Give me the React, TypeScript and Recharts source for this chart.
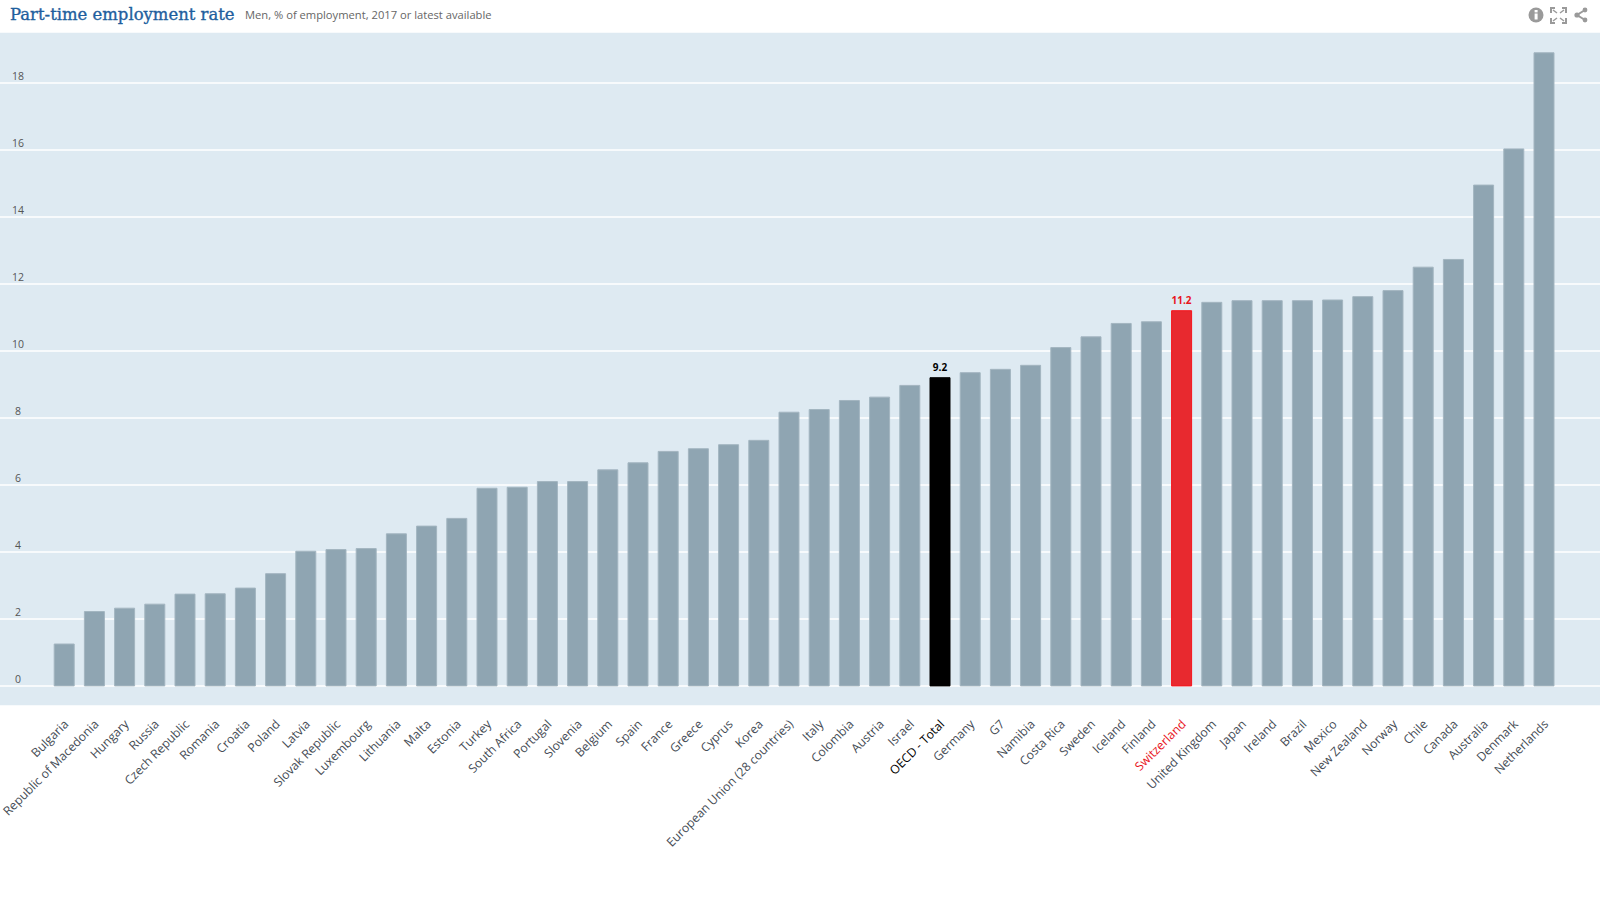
import { BarChart, Bar, Cell, CartesianGrid, LabelList, XAxis, YAxis } from "recharts";

const categories = [
  "Bulgaria", "Republic of Macedonia", "Hungary", "Russia", "Czech Republic", "Romania", "Croatia", "Poland",
  "Latvia", "Slovak Republic", "Luxembourg", "Lithuania", "Malta", "Estonia", "Turkey", "South Africa",
  "Portugal", "Slovenia", "Belgium", "Spain", "France", "Greece", "Cyprus", "Korea",
  "European Union (28 countries)", "Italy", "Colombia", "Austria", "Israel", "OECD - Total", "Germany", "G7",
  "Namibia", "Costa Rica", "Sweden", "Iceland", "Finland", "Switzerland", "United Kingdom", "Japan",
  "Ireland", "Brazil", "Mexico", "New Zealand", "Norway", "Chile", "Canada", "Australia", "Denmark", "Netherlands",
];

const values = [
  1.25, 2.22, 2.32, 2.44, 2.74, 2.75, 2.92, 3.35,
  4.02, 4.07, 4.1, 4.54, 4.77, 5.0, 5.9, 5.93,
  6.1, 6.1, 6.45, 6.66, 7.0, 7.08, 7.2, 7.33,
  8.17, 8.25, 8.52, 8.62, 8.97, 9.2, 9.35, 9.45,
  9.57, 10.1, 10.42, 10.82, 10.87, 11.2, 11.45, 11.5,
  11.5, 11.5, 11.52, 11.62, 11.8, 12.5, 12.73, 14.95, 16.03, 18.9,
];

const yTicks = [0, 2, 4, 6, 8, 10, 12, 14, 16, 18];

const highlights: Record<string, string> = {
  "OECD - Total": "#000000",
  Switzerland: "#e8292f",
};
const labelColors: Record<string, string> = {
  "OECD - Total": "#000000",
  Switzerland: "#e8141c",
};

const chartData = categories.map((name, i) => ({ name, value: values[i] }));
const FONT = "'Open Sans', sans-serif";

function XTick({ x, y, payload }: any) {
  const color = labelColors[payload.value] ?? "#454c55";
  return (
    <text
      transform={`translate(${x + 5},${y + 11}) rotate(-45)`}
      textAnchor="end"
      fontFamily={FONT}
      fontSize={12.2}
      fill={color}
    >
      {payload.value}
    </text>
  );
}

function YTick({ y, payload }: any) {
  return (
    <text x={18} y={y - 3} textAnchor="middle" fontFamily={FONT} fontSize={10.5} fill="#555">
      {payload.value}
    </text>
  );
}

function ValueLabel({ x, y, width, value, index }: any) {
  const color = labelColors[categories[index]];
  if (!color) return null;
  return (
    <text
      x={x + width / 2}
      y={y - 7}
      textAnchor="middle"
      fontFamily={FONT}
      fontSize={10}
      fontWeight={700}
      fill={color}
    >
      {value}
    </text>
  );
}

function Icons() {
  return (
    <svg width={70} height={20} style={{ position: "absolute", left: 1524, top: 5 }} fill="#9a9a9a" stroke="#9a9a9a">
      <circle cx={12} cy={10} r={7.5} stroke="none" />
      <rect x={10.6} y={8.5} width={3} height={6} fill="#fff" stroke="none" />
      <rect x={10.6} y={5} width={3} height={2.4} fill="#fff" stroke="none" />
      <g fill="none" strokeWidth={2}>
        <path d="M27 8 V3 H31 M38 3 H42 V8 M27 13 V18 H31 M38 18 H42 V13" />
        <path d="M29 5 L33 8 M40 5 L36 8 M29 16 L33 13 M40 16 L36 13" strokeWidth={1.5} />
        <path d="M61 5 L53 10 L61 15" />
      </g>
      <circle cx={53} cy={10} r={2.6} stroke="none" />
      <circle cx={61} cy={5} r={2.4} stroke="none" />
      <circle cx={61} cy={15} r={2.4} stroke="none" />
    </svg>
  );
}

export default function App() {
  return (
    <div style={{ position: "fixed", left: 0, top: 0, width: 1600, height: 900, background: "#fff", overflow: "hidden" }}>
      <div
        style={{
          position: "absolute",
          left: 10,
          top: 5,
          fontFamily: "'DejaVu Serif', serif",
          fontSize: 16.45,
          color: "#1f5f9e",
          WebkitTextStroke: "0.35px #1f5f9e",
          whiteSpace: "nowrap",
        }}
      >
        Part-time employment rate
      </div>
      <div
        style={{
          position: "absolute",
          left: 245,
          top: 7,
          fontFamily: FONT,
          fontSize: 11.2,
          color: "#666",
          whiteSpace: "nowrap",
        }}
      >
        Men, % of employment, 2017 or latest available
      </div>
      <Icons />
      <BarChart
        width={1600}
        height={900}
        data={chartData}
        margin={{ top: 32, right: 0, bottom: 0, left: 0 }}
        barSize={20}
      >
        <CartesianGrid vertical={false} stroke="#ffffff" strokeWidth={1.5} fill="#deeaf2" />
        <XAxis
          dataKey="name"
          interval={0}
          height={194}
          axisLine={false}
          tickLine={false}
          tick={<XTick />}
          padding={{ left: 49.2, right: 40.8 }}
        />
        <YAxis
          width={1}
          mirror
          domain={[-0.6, 19.52]}
          ticks={yTicks}
          axisLine={false}
          tickLine={false}
          tick={<YTick />}
        />
        <Bar dataKey="value" fill="#8fa5b2" stroke="#a3b5c0" strokeWidth={1} isAnimationActive={false}>
          {chartData.map((d) => (
            <Cell
              key={d.name}
              fill={highlights[d.name] ?? "#8fa5b2"}
              stroke={d.name === "Switzerland" ? "#f5141c" : highlights[d.name] ?? "#a3b5c0"}
            />
          ))}
          <LabelList dataKey="value" content={<ValueLabel />} />
        </Bar>
      </BarChart>
    </div>
  );
}
